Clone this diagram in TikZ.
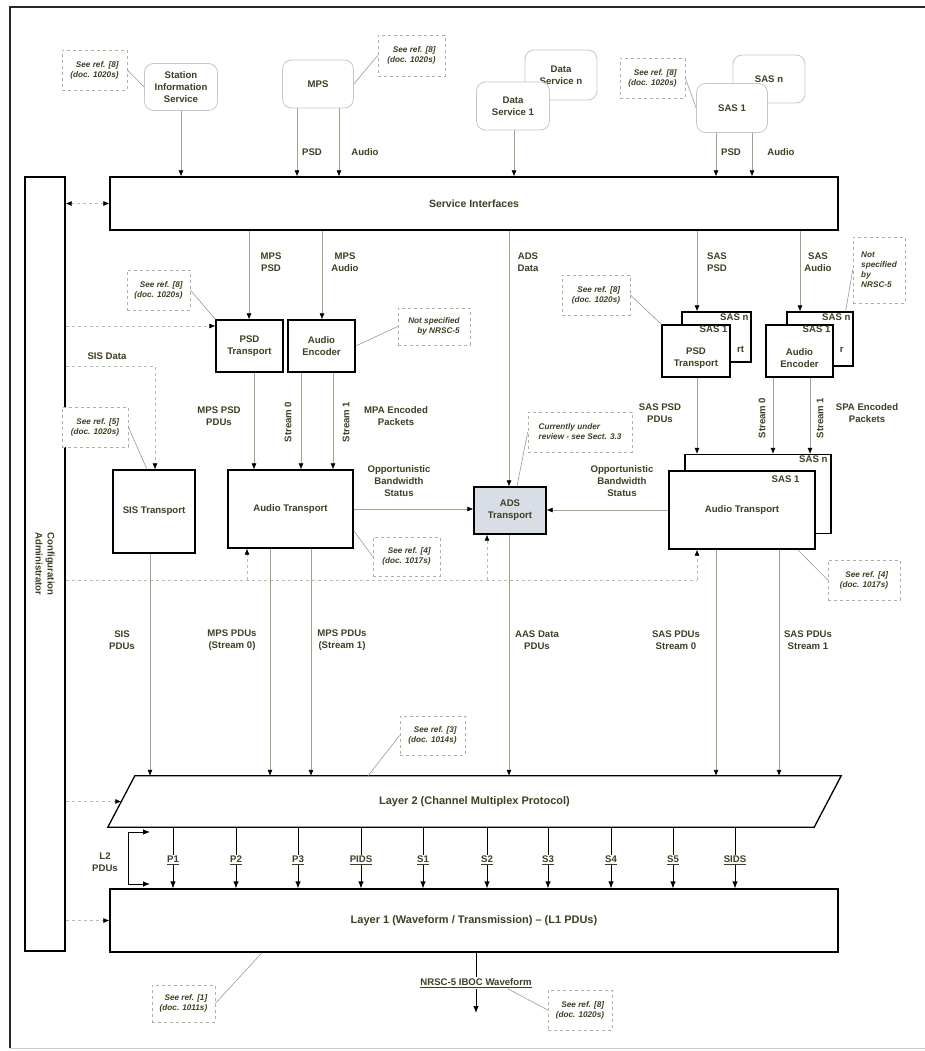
\documentclass[tikz,border=0pt]{standalone}
\usepackage{fontspec}
\setmainfont{Liberation Sans}
\usetikzlibrary{arrows.meta,calc}
\definecolor{txt}{HTML}{3F3F22}
\definecolor{ln}{HTML}{A3A388}
\definecolor{cfgc}{HTML}{A8C8A0}
\definecolor{cbd}{HTML}{B0B0A0}
\definecolor{adsf}{HTML}{D9DEE6}
\begin{document}
\begin{tikzpicture}[x=1pt,y=-1pt,
  every node/.style={font=\fontsize{9.6}{12}\selectfont\bfseries, text=txt, align=center, inner sep=1pt},
  big/.style={font=\fontsize{10.5}{12.5}\selectfont\bfseries},
  box/.style={draw=black, line width=1.3pt, fill=white, inner sep=0pt},
  svc/.style={draw=black!22, line width=0.8pt, rounded corners=9pt, fill=white, inner sep=0pt},
  note/.style={draw=cbd, dashed, line width=0.7pt, fill=white, font=\fontsize{8.2}{10}\selectfont\bfseries\itshape, align=right, inner sep=2pt},
  conn/.style={draw=ln, line width=0.6pt, -{Latex[length=6pt,width=5pt,color=black]}},
  chan/.style={draw=black, line width=0.8pt, -{Latex[length=7pt,width=5.5pt,color=black]}},
  cfgl/.style={draw=cfgc, dashed, line width=0.6pt},
  cfga/.style={cfgl, -{Latex[length=6pt,width=5pt,color=black]}},
  ptr/.style={draw=black!40, line width=0.6pt},
]
\path[use as bounding box] (0,0) rectangle (925,1051);
% frame
\draw[line width=2pt, black!85] (10,1048) -- (10,7) -- (925,7);
\draw[black!20, line width=1pt] (10,1048) -- (925,1048);

% x / y helper coordinates
\foreach \v in {147,150,155,173,181,236,247,249,254,262,270,297,298,301,311,322,333,339,361,368,423,476,487,509,514,517,548,611,673,697,716,735,752,773,779,800,810}{\coordinate (x\v) at (\v,0);}
\foreach \v in {326,366,530,580,1013}{\coordinate (y\v) at (0,\v);}

% configuration administrator
\node[box, minimum width=40, minimum height=774] (cfg) at (45,564) {};
\node[rotate=-90] at (cfg.center) {Configuration\\Administrator};

% service interfaces
\node[box, big, minimum width=728, minimum height=53] (si) at (474,203.5) {Service Interfaces};

% top services
\node[svc, minimum width=73, minimum height=47] (sis) at (181,87) {Station\\Information\\Service};
\node[svc, minimum width=71, minimum height=48] (mps) at (318,84) {MPS};
\node[svc, minimum width=72, minimum height=50] (dsn) at (561,75) {Data\\Service n};
\node[svc, minimum width=73, minimum height=48] (ds1) at (513,106) {Data\\Service 1};
\node[svc, minimum width=72, minimum height=48] (sasn) at (769,79) {SAS n};
\node[svc, minimum width=71, minimum height=49] (sas1) at (732,108) {SAS 1};

\draw[conn] (sis.south) -- (si.north -| sis.south);
\draw[conn] (mps.south -| x297) -- (si.north -| x297);
\draw[conn] (mps.south -| x339) -- (si.north -| x339);
\node at (312,152) {PSD};
\node at (365,152) {Audio};
\draw[conn] (ds1.south -| x514) -- (si.north -| x514);
\draw[conn] (sas1.south -| x716) -- (si.north -| x716);
\draw[conn] (sas1.south -| x752) -- (si.north -| x752);
\node at (731,152) {PSD};
\node at (781,152) {Audio};

% MPS PSD / audio encoder
\node[box, minimum width=67, minimum height=52] (psdT) at (249.5,346) {PSD\\Transport};
\node[box, minimum width=67, minimum height=52] (aenc) at (321.5,346) {Audio\\Encoder};
\draw[conn] (si.south -| x249) -- (psdT.north -| x249);
\node at (271,262) {MPS\\PSD};
\draw[conn] (si.south -| x322) -- (aenc.north -| x322);
\node at (345,262) {MPS\\Audio};

% SAS stacks
\node[box, minimum width=69, minimum height=50] (spsdB) at (716.5,337) {};
\node[anchor=north east] at ($(spsdB.north east)+(-2,1)$) {SAS n};
\node at ($(spsdB.east)+(-11,12)$) {rt};
\node[box, minimum width=68, minimum height=52] (spsdF) at (696,351) {};
\node at ($(spsdF.center)+(0,7)$) {PSD\\Transport};
\node[anchor=north east] at ($(spsdF.north east)+(-2,0.5)$) {SAS 1};
\node[box, minimum width=66, minimum height=54] (saudB) at (820,339) {};
\node[anchor=north east] at ($(saudB.north east)+(-2,1)$) {SAS n};
\node at ($(saudB.east)+(-12,11)$) {r};
\node[box, minimum width=67, minimum height=52] (saudF) at (799.5,351) {};
\node at ($(saudF.center)+(0,7)$) {Audio\\Encoder};
\node[anchor=north east] at ($(saudF.north east)+(-2,0.5)$) {SAS 1};

\draw[conn] (si.south -| x697) -- (spsdB.north -| x697);
\node at (717,262) {SAS\\PSD};
\draw[conn] (si.south -| x800) -- (saudB.north -| x800);
\node at (818,262) {SAS\\Audio};

% transports
\node[box, minimum width=82, minimum height=83] (sisT) at (154,511.5) {SIS Transport};
\node[box, minimum width=125, minimum height=78] (audT) at (290.5,509) {Audio Transport};
\node[box, fill=adsf, minimum width=72, minimum height=47] (ads) at (510,510.5) {ADS\\Transport};
\node[box, minimum width=146, minimum height=79] (saudTB) at (758,494) {};
\node[anchor=north east] at ($(saudTB.north east)+(-3,1)$) {SAS n};
\node[box, minimum width=146, minimum height=78] (saudTF) at (742,510) {Audio Transport};
\node[anchor=north east] at ($(saudTF.north east)+(-15,4)$) {SAS 1};

\draw[conn] (si.south -| x509) -- (ads.north -| x509);
\node at (528,262) {ADS\\Data};

\draw[conn] (psdT.south -| x254) -- (audT.north -| x254);
\draw[conn] (aenc.south -| x301) -- (audT.north -| x301);
\draw[conn] (aenc.south -| x333) -- (audT.north -| x333);
\node at (219,416) {MPS PSD\\PDUs};
\node[rotate=90] at (288,422) {Stream 0};
\node[rotate=90] at (346,422) {Stream 1};
\node at (396,416) {MPA Encoded\\Packets};

\draw[conn] (spsdF.south -| x697) -- (saudTB.north -| x697);
\draw[conn] (saudF.south -| x773) -- (saudTB.north -| x773);
\draw[conn] (saudF.south -| x810) -- (saudTB.north -| x810);
\node at (660,413) {SAS PSD\\PDUs};
\node[rotate=90] at (762,418) {Stream 0};
\node[rotate=90] at (820,418) {Stream 1};
\node at (867,413) {SPA Encoded\\Packets};

\node at (399,481) {Opportunistic\\Bandwidth\\Status};
\node at (622,481) {Opportunistic\\Bandwidth\\Status};
\draw[conn] (audT.east) -- (ads.west |- audT.east);
\draw[conn] (saudTF.west) -- (ads.east |- saudTF.west);

% configuration lines
\draw[cfgl, {Latex[length=6pt,width=5pt,color=black]}-{Latex[length=6pt,width=5pt,color=black]}] (cfg.east |- si.west) -- (si.west);
\draw[cfga] (cfg.east |- y326) -- (psdT.west |- y326);
\draw[cfga] (cfg.east |- y366) -- (x155 |- y366) -- (sisT.north -| x155);
\node at (107,356) {SIS Data};
\draw[cfgl] (cfg.east |- y580) -- (x697 |- y580);
\draw[cfga] (x247 |- y580) -- (audT.south -| x247);
\draw[cfga] (x487 |- y580) -- (ads.south -| x487);
\draw[cfga] (x697 |- y580) -- (saudTF.south -| x697);

% layer 2
\node[font=\fontsize{11}{13}\selectfont\bfseries, minimum width=706, minimum height=51, inner sep=0] (l2) at (474.5,801.5) {Layer 2 (Channel Multiplex Protocol)};
\draw[line width=1.3pt] ($(l2.north west)+(13.5,0)$) -- ($(l2.north east)+(13.5,0)$) -- ($(l2.south east)+(-13.5,0)$) -- ($(l2.south west)+(-13.5,0)$) -- cycle;
\draw[cfga] (cfg.east |- l2.west) -- (l2.west);

% PDUs down
\draw[conn] (sisT.south -| x150) -- (l2.north -| x150);
\draw[conn] (audT.south -| x270) -- (l2.north -| x270);
\draw[conn] (audT.south -| x311) -- (l2.north -| x311);
\draw[conn] (ads.south -| x509) -- (l2.north -| x509);
\draw[conn] (saudTF.south -| x716) -- (l2.north -| x716);
\draw[conn] (saudTF.south -| x779) -- (l2.north -| x779);
\node at (122,640) {SIS\\PDUs};
\node at (232,640) {MPS PDUs\\(Stream 0)};
\node at (342,640) {MPS PDUs\\(Stream 1)};
\node at (537,640) {AAS Data\\PDUs};
\node at (676,640) {SAS PDUs\\Stream 0};
\node at (808,640) {SAS PDUs\\Stream 1};

% layer 1
\node[box, font=\fontsize{11}{13}\selectfont\bfseries, minimum width=728, minimum height=63] (l1) at (474,920.5) {Layer 1 (Waveform / Transmission) – (L1 PDUs)};
\draw[cfga] (cfg.east |- l1.west) -- (l1.west);

% L2 PDUs bracket
\coordinate (brk) at (128,858);
\coordinate (bt) at (150,832);
\coordinate (bb) at (150,884);
\draw[chan] (brk) |- (bt);
\draw[chan] (brk) |- (bb);
\node at (105,862) {L2\\PDUs};

% channels
\foreach \xx/\lab in {173/P1,236/P2,298/P3,361/PIDS,423/S1,487/S2,548/S3,611/S4,673/S5,735/SIDS}{
  \coordinate (ch) at (\xx,0);
  \draw[chan] (l2.south -| ch) -- (l1.north -| ch);
  \node[fill=white, inner sep=0.6pt] at (\xx,860) {\underline{\lab}};
}

% waveform
\draw[chan] (l1.south -| x476) -- (x476 |- y1013);
\node[fill=white, inner sep=1pt] (wf) at (476,983) {\underline{NRSC-5 IBOC Waveform}};

% callouts
\node[note, minimum width=65, minimum height=40] (c1) at (94.5,70) {See ref. [8]\\(doc. 1020s)};
\node[note, minimum width=67, minimum height=41] (c2) at (411.5,55.5) {See ref. [8]\\(doc. 1020s)};
\node[note, minimum width=65, minimum height=40] (c3) at (652.5,78) {See ref. [8]\\(doc. 1020s)};
\node[note, minimum width=63, minimum height=40] (c4) at (158.5,290) {See ref. [8]\\(doc. 1020s)};
\node[note, minimum width=72, minimum height=37] (c5) at (434,326.5) {Not specified\\by NRSC-5};
\node[note, minimum width=66, minimum height=40] (c6) at (95,427) {See ref. [5]\\(doc. 1020s)};
\node[note, align=left, minimum width=104, minimum height=40, inner sep=1pt] (c7) at (580,432) {Currently under\\review - see Sect. 3.3};
\node[note, minimum width=68, minimum height=40] (c8) at (596,295) {See ref. [8]\\(doc. 1020s)};
\node[note, align=left, minimum width=52, minimum height=66] (c9) at (879,270) {Not\\specified\\by\\NRSC-5};
\node[note, minimum width=67, minimum height=39] (c10) at (406.5,556.5) {See ref. [4]\\(doc. 1017s)};
\node[note, minimum width=72, minimum height=40] (c11) at (864,580) {See ref. [4]\\(doc. 1017s)};
\node[note, minimum width=65, minimum height=39] (c12) at (432.5,735.5) {See ref. [3]\\(doc. 1014s)};
\node[note, minimum width=63, minimum height=37] (c13) at (183.5,1003.5) {See ref. [1]\\(doc. 1011s)};
\node[note, minimum width=64, minimum height=40] (c14) at (580,1010) {See ref. [8]\\(doc. 1020s)};

\draw[ptr] (c1.east) -- (sis.west);
\draw[ptr] (c2.west) -- (mps.east);
\draw[ptr] (c3.east) -- (sas1.west);
\draw[ptr] (c4.east) -- (psdT.north west);
\draw[ptr] (c5.west) -- (aenc.east);
\draw[ptr] (c6.east) -- (sisT.north -| x147);
\draw[ptr] (c7.west) -- (ads.north -| x517);
\draw[ptr] (c8.east) -- (spsdF.north west);
\draw[ptr] (c9.west) -- ($(saudB.north east)+(-8,0)$);
\draw[ptr] ($(audT.south east)+(0,-18)$) -- (c10.west);
\draw[ptr] ($(saudTF.south east)+(-18,0)$) -- (c11.west);
\draw[ptr] (c12.west) -- (l2.north -| x368);
\draw[ptr] (c13.east) -- (l1.south -| x262);
\draw[ptr] (c14.west) -- ($(wf.south east)+(-25,0)$);
\end{tikzpicture}
\end{document}
